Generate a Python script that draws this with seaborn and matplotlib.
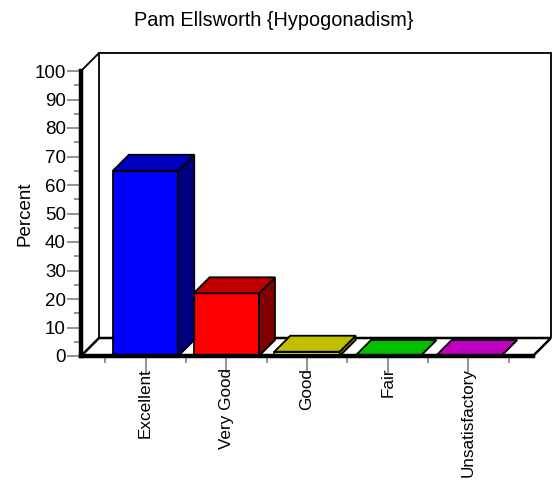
import numpy as np
import pandas as pd
import matplotlib
matplotlib.use("Agg")
import matplotlib.pyplot as plt
import seaborn as sns
from matplotlib.patches import Polygon

# ---- data ----
categories = ["Excellent", "Very Good", "Good", "Fair", "Unsatisfactory"]
percents = [65, 22, 1.5, 0, 0]
front_colors = ["#0000FF", "#FF0000", "#FFFF00", "#00FF00", "#FF00FF"]
top_colors = ["#0000C0", "#C00000", "#C0C000", "#00C000", "#C000C0"]
side_colors = ["#000080", "#800000", "#808000", "#008000", "#800080"]
title = "Pam Ellsworth {Hypogonadism}"
ylabel = "Percent"
yticks = list(range(0, 101, 10))

sns.set_theme(style="white")
plt.rcParams["font.family"] = ["Liberation Sans", "DejaVu Sans"]
plt.rcParams["text.color"] = "black"

W, H = 558, 480
fig = plt.figure(figsize=(W / 100, H / 100), dpi=100)
ax = fig.add_axes([81 / W, 1 - 356 / H, 470 / W, 303 / H])

xmin, xmax = -0.8, 4.8
wall_px = 18
px_x = (470 - wall_px) / (xmax - xmin)
px_y = (303 - wall_px) / 100.0
dx, dy = wall_px / px_x, wall_px / px_y
bdx, bdy = 16 / px_x, 16 / px_y

df = pd.DataFrame({"Category": categories, "Percent": percents})
sns.barplot(data=df, x="Category", y="Percent", hue="Category",
            palette=front_colors, saturation=1, width=0.81,
            edgecolor="black", linewidth=1.3, legend=False, ax=ax, zorder=3)

ax.set_xlim(xmin, xmax + dx)
ax.set_ylim(0, 100 + dy)

# floor
floor = Polygon([(xmin, 0), (xmax, 0), (xmax + dx, dy), (xmin + dx, dy)],
                closed=True, fc="white", ec="black", lw=1.8, zorder=1)
ax.add_patch(floor)

# back wall lines
lk = dict(color="black", lw=1.3, zorder=1, clip_on=False)
ax.plot([xmin, xmin + dx], [100, 100 + dy], **lk)
ax.plot([xmin + dx, xmin + dx], [dy, 100 + dy], **lk)
ax.plot([xmin + dx, xmax + dx], [100 + dy, 100 + dy], **lk)
ax.plot([xmax + dx, xmax + dx], [dy, 100 + dy], **lk)

# 3D faces for bars
bars = sorted([p for p in ax.patches if p is not floor], key=lambda p: p.get_x())
for p, tc, sc in zip(bars, top_colors, side_colors):
    x0, w, h = p.get_x(), p.get_width(), p.get_height()
    side = Polygon([(x0 + w, 0), (x0 + w + bdx, bdy), (x0 + w + bdx, h + bdy), (x0 + w, h)],
                   closed=True, fc=sc, ec="black", lw=1.3, zorder=3, clip_on=False)
    top = Polygon([(x0, h), (x0 + w, h), (x0 + w + bdx, h + bdy), (x0 + bdx, h + bdy)],
                  closed=True, fc=tc, ec="black", lw=1.3, zorder=3, clip_on=False)
    ax.add_patch(side)
    ax.add_patch(top)

# spines
for s in ["top", "right"]:
    ax.spines[s].set_visible(False)
ax.spines["left"].set_bounds(0, 100)
ax.spines["bottom"].set_bounds(xmin, xmax)
for s in ["left", "bottom"]:
    ax.spines[s].set_color("black")
    ax.spines[s].set_linewidth(3.2)
    ax.spines[s].set_zorder(4)

ax.set_yticks(yticks)
ax.set_yticks(np.arange(5, 100, 10), minor=True)
ax.set_xticks(range(len(categories)))
ax.set_xticklabels(categories, rotation=90)
ax.set_xticks(np.arange(-0.5, len(categories), 1), minor=True)
ax.tick_params(axis="y", which="major", left=True, length=10, width=1.2,
               color="#808080", labelsize=13.5, pad=1, labelcolor="black")
ax.tick_params(axis="y", which="minor", left=True, length=5, width=1.2, color="#808080")
ax.tick_params(axis="x", which="major", bottom=True, length=12, width=1.2,
               color="#808080", labelsize=12.3, pad=-3.5, labelcolor="black")
ax.tick_params(axis="x", which="minor", bottom=True, length=5, width=1.2, color="#808080")
ax.set_xlabel("")
ax.set_ylabel("")
ax.grid(False)

fig.text(25 / W, 1 - 214 / H, ylabel, rotation=90, ha="center", va="center",
         fontsize=13.5, color="black")
fig.text(274 / W, 1 - 21 / H, title, ha="center", va="center",
         fontsize=14.3, color="black")

fig.savefig("out.png", dpi=100)
